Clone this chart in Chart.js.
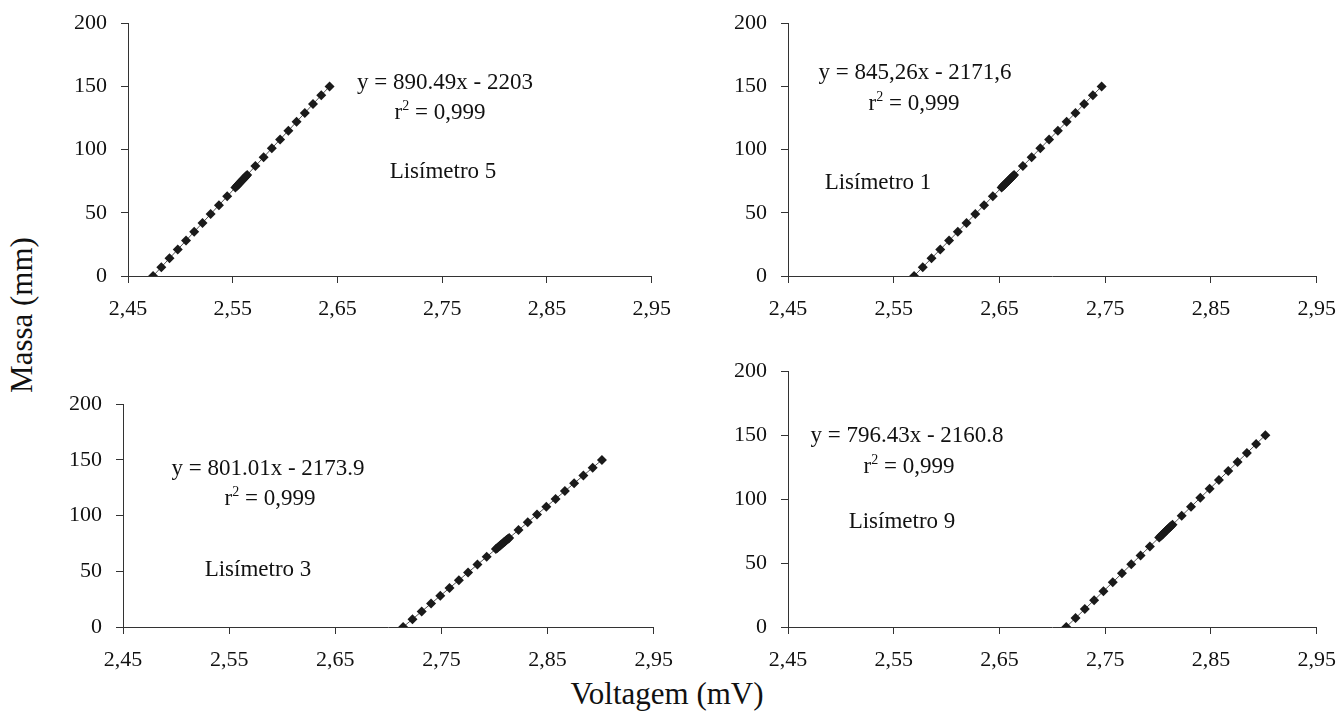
<!DOCTYPE html>
<html lang="pt">
<head>
<meta charset="utf-8">
<title>Calibração dos lisímetros</title>
<script src="https://cdn.jsdelivr.net/npm/chart.js@4.4.0/dist/chart.umd.min.js"></script>
<style>
  html, body { margin: 0; padding: 0; background: #fff; overflow: hidden; }
  body { width: 1340px; height: 711px; position: relative; font-family: "Liberation Serif", "Times New Roman", serif; color: #111; }
  .painel { position: absolute; }
  .nota { position: absolute; transform: translate(-50%, -50%); white-space: nowrap; font-size: 23px; line-height: 1; }
  .nota sup { font-size: 14px; line-height: 0; vertical-align: 9px; }
  .titulo { position: absolute; font-size: 31px; font-weight: normal; white-space: nowrap; transform: translate(-50%, -50%); }
  #tituloY { transform: translate(-50%, -50%) rotate(-90deg); }
</style>
</head>
<body>

<canvas id="lis5" class="painel" width="600" height="300"></canvas>
<canvas id="lis1" class="painel" width="600" height="300"></canvas>
<canvas id="lis3" class="painel" width="600" height="300"></canvas>
<canvas id="lis9" class="painel" width="600" height="300"></canvas>

<div class="nota" style="left:445px; top:81px;">y = 890.49x - 2203</div>
<div class="nota" style="left:440px; top:111px;">r<sup>2</sup> = 0,999</div>
<div class="nota" style="left:443px; top:170px;">Lisímetro 5</div>

<div class="nota" style="left:915px; top:71px;">y = 845,26x - 2171,6</div>
<div class="nota" style="left:914px; top:102px;">r<sup>2</sup> = 0,999</div>
<div class="nota" style="left:878px; top:181px;">Lisímetro 1</div>

<div class="nota" style="left:268px; top:467px;">y = 801.01x - 2173.9</div>
<div class="nota" style="left:270px; top:497px;">r<sup>2</sup> = 0,999</div>
<div class="nota" style="left:258px; top:568px;">Lisímetro 3</div>

<div class="nota" style="left:907px; top:434px;">y = 796.43x - 2160.8</div>
<div class="nota" style="left:909px; top:465px;">r<sup>2</sup> = 0,999</div>
<div class="nota" style="left:902px; top:520px;">Lisímetro 9</div>

<div id="tituloY" class="titulo" style="left:22px; top:315px;">Massa (mm)</div>
<div class="titulo" style="left:667px; top:694px;">Voltagem (mV)</div>

<script>
// Massa aplicada (mm) - mesma sequência nos quatro lisímetros
const massa = [0, 7, 14, 21, 28, 35, 42, 49, 56, 63, 70,
    71, 72, 73, 74, 75, 76, 77, 78, 79,
    80, 87, 94, 101, 108, 115, 122, 129, 136, 143, 150];

// Voltagem lida (mV) em cada lisímetro
const voltLis5 = [2.4739, 2.4818, 2.4896, 2.4975, 2.5054, 2.5132, 2.5211, 2.5289, 2.5368, 2.5447, 2.5525,
    2.5537, 2.5548, 2.5559, 2.5570, 2.5581, 2.5593, 2.5604, 2.5615, 2.5626,
    2.5638, 2.5716, 2.5795, 2.5873, 2.5952, 2.6031, 2.6109, 2.6188, 2.6266, 2.6345, 2.6424];
const voltLis1 = [2.5692, 2.5774, 2.5857, 2.5940, 2.6023, 2.6106, 2.6188, 2.6271, 2.6354, 2.6437, 2.6520,
    2.6531, 2.6543, 2.6555, 2.6567, 2.6579, 2.6591, 2.6602, 2.6614, 2.6626,
    2.6638, 2.6721, 2.6804, 2.6886, 2.6969, 2.7052, 2.7135, 2.7218, 2.7300, 2.7383, 2.7466];
const voltLis3 = [2.7139, 2.7227, 2.7314, 2.7402, 2.7489, 2.7576, 2.7664, 2.7751, 2.7839, 2.7926, 2.8013,
    2.8026, 2.8038, 2.8051, 2.8063, 2.8076, 2.8088, 2.8101, 2.8113, 2.8126,
    2.8138, 2.8226, 2.8313, 2.8400, 2.8488, 2.8575, 2.8663, 2.8750, 2.8837, 2.8925, 2.9012];
const voltLis9 = [2.7131, 2.7219, 2.7307, 2.7395, 2.7483, 2.7571, 2.7658, 2.7746, 2.7834, 2.7922, 2.8010,
    2.8023, 2.8035, 2.8048, 2.8060, 2.8073, 2.8085, 2.8098, 2.8110, 2.8123,
    2.8136, 2.8223, 2.8311, 2.8399, 2.8487, 2.8575, 2.8663, 2.8751, 2.8839, 2.8927, 2.9014];

// Marcas dos eixos
const xTicks = [2.45, 2.55, 2.65, 2.75, 2.85, 2.95];
const yTicks = [0, 50, 100, 150, 200];

// Área de plotagem de cada painel (px na página)
const paineis = [
    { id: "lis5", volt: voltLis5, left: 128, top: 23, right: 652, bottom: 276 },
    { id: "lis1", volt: voltLis1, left: 788, top: 23, right: 1317, bottom: 276 },
    { id: "lis3", volt: voltLis3, left: 123, top: 404, right: 654, bottom: 627 },
    { id: "lis9", volt: voltLis9, left: 788, top: 371, right: 1317, bottom: 627 },
];

const EIXO_Y = 70;
const EIXO_X = 48;
const fonteTicks = { family: "'Liberation Serif', 'Times New Roman', serif", size: 22 };

function criarPainel(p) {
    const canvas = document.getElementById(p.id);
    const pontos = massa.map((m, i) => ({ x: p.volt[i], y: m }));

    const chart = new Chart(canvas, {
        type: "scatter",
        data: {
            datasets: [{
                data: pontos,
                showLine: true,
                borderColor: "#555",
                borderWidth: 1,
                pointStyle: "rectRot",
                pointRadius: 5,
                pointBackgroundColor: "#1a1a1a",
                pointBorderColor: "#1a1a1a",
                pointBorderWidth: 0,
            }],
        },
        options: {
            responsive: false,
            maintainAspectRatio: false,
            animation: false,
            layout: { padding: 0 },
            plugins: { legend: { display: false }, tooltip: { enabled: false } },
            scales: {
                x: {
                    type: "linear",
                    min: xTicks[0],
                    max: xTicks[xTicks.length - 1],
                    afterBuildTicks: (s) => { s.ticks = xTicks.map((v) => ({ value: v })); },
                    afterFit: (s) => { s.height = EIXO_X; },
                    grid: { drawOnChartArea: false, drawTicks: true, tickLength: 7, color: "#333" },
                    border: { display: true, color: "#333", width: 1 },
                    ticks: {
                        color: "#111",
                        font: fonteTicks,
                        padding: 13,
                        maxRotation: 0,
                        callback: (v) => Number(v).toFixed(2).replace(".", ","),
                    },
                },
                y: {
                    type: "linear",
                    min: yTicks[0],
                    max: yTicks[yTicks.length - 1],
                    afterBuildTicks: (s) => { s.ticks = yTicks.map((v) => ({ value: v })); },
                    afterFit: (s) => { s.width = EIXO_Y; },
                    grid: { drawOnChartArea: false, drawTicks: true, tickLength: 7, color: "#333" },
                    border: { display: true, color: "#333", width: 1 },
                    ticks: { color: "#111", font: fonteTicks, padding: 14 },
                },
            },
        },
    });

    // ajustar o canvas para que a área do gráfico caia no lugar certo
    const a = chart.chartArea;
    const esq = a.left;
    const topo = a.top;
    const dir = chart.width - a.right;
    const baixo = chart.height - a.bottom;
    const w = Math.round(p.right - p.left + esq + dir);
    const h = Math.round(p.bottom - p.top + topo + baixo);
    canvas.style.left = Math.round(p.left - esq) + "px";
    canvas.style.top = Math.round(p.top - topo) + "px";
    chart.resize(w, h);
    return chart;
}

paineis.forEach(criarPainel);
</script>
</body>
</html>
